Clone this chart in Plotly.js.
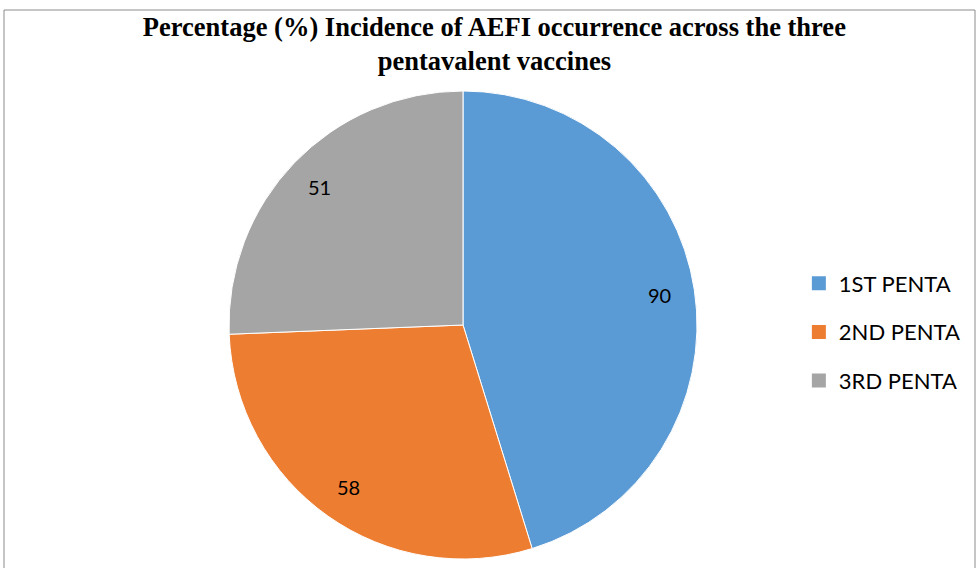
<!DOCTYPE html>
<html><head><meta charset="utf-8">
<script src="https://cdn.plot.ly/plotly-3.0.1.min.js"></script>
<style>html,body{margin:0;padding:0;background:#fff}#c{width:979px;height:568px}</style>
</head><body><div id="c"></div>
<script>
const categories = ["1ST PENTA", "2ND PENTA", "3RD PENTA"];
const values = [90, 58, 51];
const colors = ["#5B9BD5", "#ED7D31", "#A5A5A5"];

const W = 979, H = 568;
const dom = {x: [229 / W, 697 / W], y: [1 - 559 / H, 1 - 91 / H]};

const pie = {
  type: "pie",
  labels: categories,
  values: values,
  sort: false,
  direction: "clockwise",
  rotation: 0,
  marker: {colors: colors, line: {color: "#ffffff", width: 1}},
  textinfo: "none",
  hoverinfo: "label+value",
  showlegend: false,
  domain: dom
};

// legend entries (legend-only helper traces, one per category)
const legendTraces = categories.map((c, i) => ({
  type: "scatter", mode: "markers", x: [null], y: [null],
  name: c, legendgroup: "g" + i,
  marker: {symbol: "square", size: 14, color: colors[i]},
  hoverinfo: "skip"
}));

// data labels placed along each slice's mid-angle, derived from the values
const total = values.reduce((a, b) => a + b, 0);
const cx = (dom.x[0] + dom.x[1]) / 2, cy = (dom.y[0] + dom.y[1]) / 2;
const rx = (dom.x[1] - dom.x[0]) / 2, ry = (dom.y[1] - dom.y[0]) / 2;
let cum = 0;
const annotations = values.map(v => {
  const mid = (cum + v / 2) / total * 2 * Math.PI;
  cum += v;
  const k = 0.85;
  return {
    xref: "paper", yref: "paper", showarrow: false,
    xanchor: "center", yanchor: "middle",
    x: cx + k * rx * Math.sin(mid), y: cy + k * ry * Math.cos(mid),
    text: String(v),
    font: {family: "Lato, 'Open Sans', sans-serif", size: 20, color: "#000"}
  };
});

const layout = {
  width: W, height: H,
  margin: {l: 0, r: 0, t: 0, b: 0},
  paper_bgcolor: "#ffffff",
  plot_bgcolor: "rgba(0,0,0,0)",
  xaxis: {visible: false}, yaxis: {visible: false},
  title: {
    text: "Percentage (%) Incidence of AEFI occurrence across the three<br>pentavalent vaccines",
    font: {family: "'Liberation Serif', 'Times New Roman', serif", size: 26.5, color: "#000", weight: "bold"},
    x: 0.505, xanchor: "center", y: 0.937, yanchor: "top"
  },
  showlegend: true,
  legend: {
    x: 0.816, y: 1 - 332 / H, xanchor: "left", yanchor: "middle",
    font: {family: "Lato, 'Open Sans', sans-serif", size: 22, color: "#000"},
    itemwidth: 30, tracegroupgap: 17, traceorder: "grouped", bgcolor: "rgba(0,0,0,0)"
  },
  annotations: annotations,
  shapes: [{
    type: "rect", xref: "paper", yref: "paper",
    x0: 4 / W, x1: 975 / W, y0: -0.05, y1: 1 - 10 / H,
    line: {color: "#8c8c8c", width: 1}, fillcolor: "rgba(0,0,0,0)", layer: "below"
  }]
};

Plotly.newPlot("c", [pie].concat(legendTraces), layout, {displayModeBar: false, staticPlot: true});
</script>
</body></html>
